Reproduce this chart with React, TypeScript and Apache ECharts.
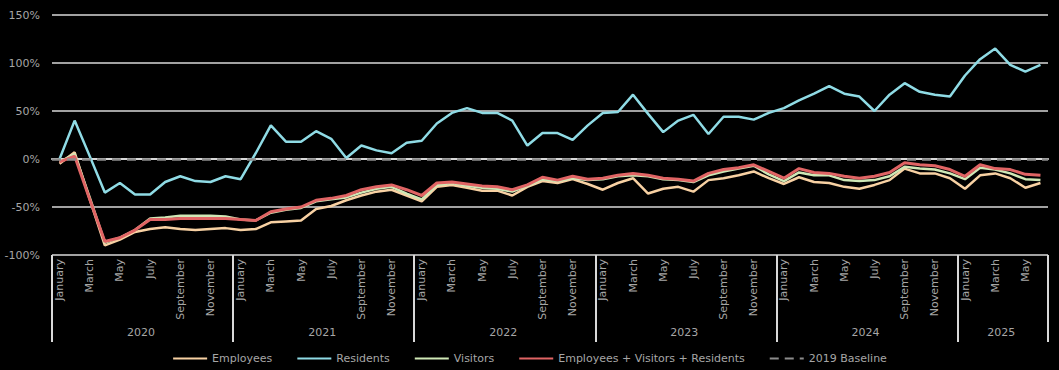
import React, { useEffect, useRef } from "react";
import * as echarts from "echarts";

const years = ["2020", "2021", "2022", "2023", "2024", "2025"];
const monthsPerYear = [12, 12, 12, 12, 12, 6];
const monthNames = [
  "January", "February", "March", "April", "May", "June",
  "July", "August", "September", "October", "November", "December",
];

const employees = [
  -5, 7, -42, -90, -84, -76, -73, -71, -73, -74, -73, -72,
  -74, -73, -66, -65, -64, -52, -49, -43, -38, -34, -32, -38,
  -44, -29, -27, -30, -33, -33, -38, -29, -23, -25, -21, -26,
  -32, -25, -20, -36, -31, -29, -34, -22, -20, -17, -13, -20,
  -26, -19, -24, -25, -29, -31, -27, -22, -10, -15, -15, -20,
  -31, -17, -15, -20, -30, -25,
];

const residents = [
  0, 40, 3, -35, -25, -37, -37, -24, -18, -23, -24, -18,
  -21, 6, 35, 18, 18, 29, 21, 1, 14, 9, 6, 17,
  19, 37, 48, 53, 48, 48, 40, 14, 27, 27, 20, 35,
  48, 49, 67, 47, 28, 40, 46, 26, 44, 44, 41, 48,
  53, 61, 68, 76, 68, 65, 50, 67, 79, 70, 67, 65,
  87, 104, 115, 98, 91, 98,
];

const visitors = [
  -3, 5, -40, -87, -82, -74, -62, -61, -59, -59, -59, -60,
  -63, -64, -56, -53, -51, -44, -42, -40, -35, -31, -29, -36,
  -42, -27, -25, -28, -30, -31, -34, -28, -21, -23, -20, -22,
  -21, -18, -17, -18, -21, -22, -24, -17, -13, -10, -7, -16,
  -23, -14, -17, -17, -22, -23, -22, -18, -8, -10, -11, -15,
  -21, -9, -11, -15, -21, -22,
];

const combined = [
  -3, 3, -42, -86, -82, -74, -63, -63, -62, -62, -62, -62,
  -63, -64, -55, -52, -50, -43, -41, -38, -32, -29, -27, -32,
  -38, -25, -24, -26, -28, -29, -32, -27, -19, -22, -18, -21,
  -20, -17, -15, -17, -20, -21, -23, -15, -11, -9, -6, -13,
  -20, -10, -14, -15, -18, -20, -18, -14, -4, -6, -7, -11,
  -18, -6, -10, -11, -16, -17,
];

const baselineValue = 0;
const yMin = -100;
const yMax = 150;
const yInterval = 50;

const categories: string[] = years.flatMap((y, k) =>
  monthNames.slice(0, monthsPerYear[k]).map((m) => `${m} ${y}`)
);

// index of first month of each year group and the label index (group middle)
const groupStarts: number[] = [];
const groupLabelIdx: number[] = [];
{
  let s = 0;
  monthsPerYear.forEach((n) => {
    groupStarts.push(s);
    groupLabelIdx.push(s + n / 2);
    s += n;
  });
}

const FONT = "DejaVu Sans";
const TEXT = "#a6a6a6";

export default function App() {
  const ref = useRef<HTMLDivElement>(null);

  useEffect(() => {
    document.body.style.margin = "0";
    document.body.style.background = "#000";
    if (!ref.current) return;
    const chart = echarts.init(ref.current, null, { renderer: "svg" });
    const lineSeries = (name: string, data: number[], color: string, width: number) => ({
      name,
      type: "line",
      data,
      symbol: "none",
      showSymbol: false,
      lineStyle: { color, width },
      itemStyle: { color },
      z: 3,
    });
    chart.setOption({
      animation: false,
      backgroundColor: "#000",
      textStyle: { fontFamily: FONT },
      grid: { left: 52, right: 11, top: 15, bottom: 115, containLabel: false },
      legend: {
        left: "center",
        top: 348,
        itemWidth: 34,
        itemHeight: 4,
        itemGap: 24,
        itemStyle: { opacity: 0 },
        textStyle: { color: TEXT, fontSize: 11, fontFamily: FONT },
        data: [
          "Employees",
          "Residents",
          "Visitors",
          "Employees + Visitors + Residents",
          "2019 Baseline",
        ],
      },
      xAxis: [
        {
          type: "category",
          data: categories,
          boundaryGap: true,
          position: "bottom",
          axisLine: { show: true, lineStyle: { color: "#d9d9d9", width: 2 } },
          axisTick: { show: false },
          axisLabel: {
            rotate: 90,
            interval: 1,
            margin: 4,
            color: TEXT,
            fontSize: 11,
            fontFamily: FONT,
            formatter: (v: string) => v.split(" ")[0],
          },
          splitLine: { show: false },
        },
        {
          type: "category",
          data: categories,
          boundaryGap: true,
          position: "bottom",
          axisLine: { show: false },
          axisTick: {
            show: true,
            length: 87,
            interval: (i: number) => groupStarts.includes(i),
            lineStyle: { color: "#d9d9d9", width: 2 },
          },
          axisLabel: {
            show: true,
            interval: (i: number) => groupLabelIdx.includes(i),
            margin: 72,
            color: TEXT,
            fontSize: 11,
            fontFamily: FONT,
            padding: [0, 18, 0, 0],
            formatter: (v: string) => v.split(" ")[1],
          },
          splitLine: { show: false },
        },
      ],
      yAxis: {
        type: "value",
        min: yMin,
        max: yMax,
        interval: yInterval,
        axisLine: { show: false },
        axisTick: { show: false },
        axisLabel: {
          color: TEXT,
          fontSize: 11,
          fontFamily: FONT,
          margin: 12,
          formatter: "{value}%",
        },
        splitLine: { show: true, lineStyle: { color: "#d9d9d9", width: 1.5 } },
      },
      series: [
        lineSeries("Employees", employees, "#f8d1a3", 2.5),
        lineSeries("Residents", residents, "#8fdbe5", 2.5),
        lineSeries("Visitors", visitors, "#cfe8b6", 2.5),
        lineSeries("Employees + Visitors + Residents", combined, "#e06464", 3),
        {
          name: "2019 Baseline",
          type: "line",
          data: [],
          symbol: "none",
          lineStyle: { color: "#8c8c8c", width: 2.5, type: [9, 6] },
          itemStyle: { color: "#8c8c8c" },
          z: 4,
          markLine: {
            silent: true,
            symbol: ["none", "none"],
            label: { show: false },
            lineStyle: { color: "#8c8c8c", width: 2.5, type: [9, 6] },
            data: [{ yAxis: baselineValue }],
          },
        },
      ],
    });
    return () => chart.dispose();
  }, []);

  return <div ref={ref} style={{ width: 1059, height: 370, background: "#000" }} />;
}
